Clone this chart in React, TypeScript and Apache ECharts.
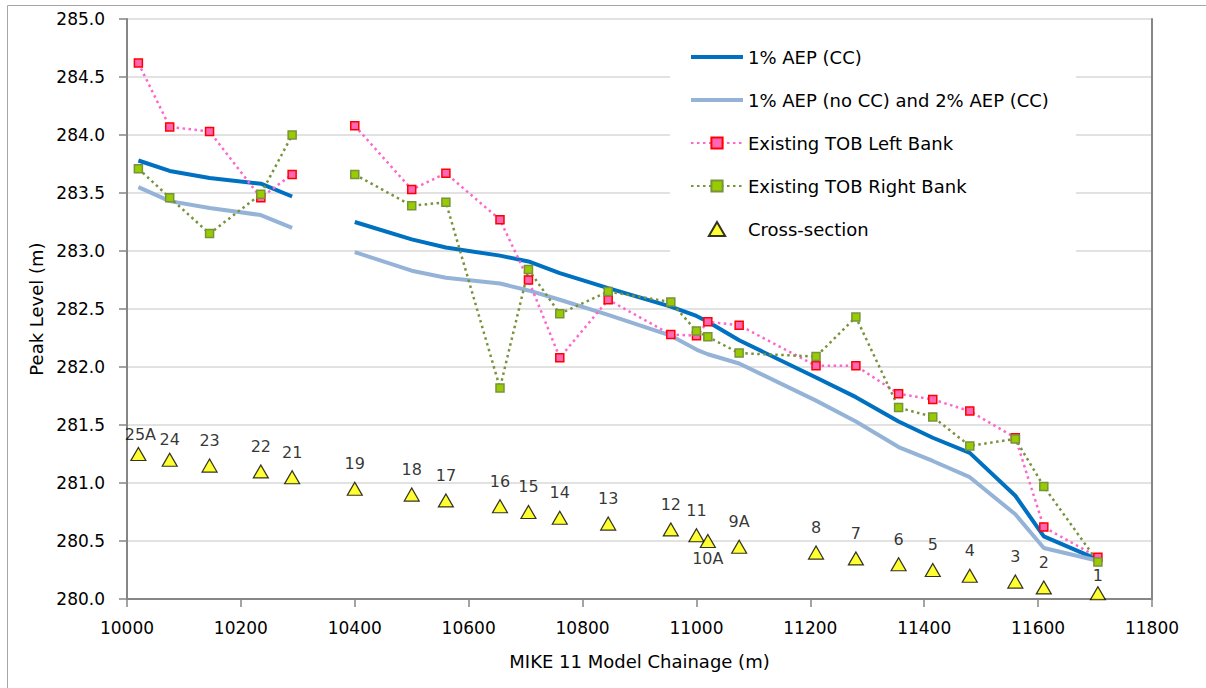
import React, { useEffect, useRef } from "react";
import * as echarts from "echarts";

// Cross-section chainages (m) and names
const chainage = [10020, 10075, 10145, 10235, 10290, 10400, 10500, 10560, 10655, 10705, 10760, 10845, 10955, 11000, 11020, 11075, 11210, 11280, 11355, 11415, 11480, 11560, 11610, 11705];
const sectionNames = ["25A", "24", "23", "22", "21", "19", "18", "17", "16", "15", "14", "13", "12", "11", "10A", "9A", "8", "7", "6", "5", "4", "3", "2", "1"];
const sectionMarker = [281.25, 281.2, 281.15, 281.1, 281.05, 280.95, 280.9, 280.85, 280.8, 280.75, 280.7, 280.65, 280.6, 280.55, 280.5, 280.45, 280.4, 280.35, 280.3, 280.25, 280.2, 280.15, 280.1, 280.05];

// Peak levels (m)
const aep1CC = [283.78, 283.69, 283.63, 283.58, 283.47, 283.25, 283.1, 283.03, 282.96, 282.91, 282.81, 282.68, 282.52, 282.44, 282.39, 282.23, 281.91, 281.74, 281.53, 281.39, 281.26, 280.89, 280.54, 280.34];
const aep1NoCC = [283.55, 283.43, 283.37, 283.31, 283.2, 282.99, 282.83, 282.77, 282.72, 282.66, 282.58, 282.45, 282.27, 282.15, 282.11, 282.03, 281.71, 281.53, 281.31, 281.19, 281.05, 280.73, 280.44, 280.33];
const tobLeft = [284.62, 284.07, 284.03, 283.46, 283.66, 284.08, 283.53, 283.67, 283.27, 282.75, 282.08, 282.58, 282.28, 282.27, 282.39, 282.36, 282.01, 282.01, 281.77, 281.72, 281.62, 281.39, 280.62, 280.36];
const tobRight = [283.71, 283.46, 283.15, 283.49, 284.0, 283.66, 283.39, 283.42, 281.82, 282.84, 282.46, 282.65, 282.56, 282.31, 282.26, 282.12, 282.09, 282.43, 281.65, 281.57, 281.32, 281.38, 280.97, 280.32];

// The model has two reaches: sections 25A-21 and 19-1
const reachBreak = 5;

const yTicks = { min: 280, max: 285, interval: 0.5 };
const xTicks = { min: 10000, max: 11800, interval: 200 };

const FONT = "DejaVu Sans";

const NAME_CC = "1% AEP (CC)";
const NAME_NOCC = "1% AEP (no CC) and 2% AEP (CC)";
const NAME_LEFT = "Existing TOB Left Bank";
const NAME_RIGHT = "Existing TOB Right Bank";
const NAME_XS = "Cross-section";

function pairs(ys: number[], from: number, to: number) {
  const out: number[][] = [];
  for (let i = from; i < to; i++) out.push([chainage[i], ys[i]]);
  return out;
}

function lineSeries(name: string, ys: number[], style: any) {
  return [
    { name, type: "line", data: pairs(ys, 0, reachBreak), ...style },
    { name, type: "line", data: pairs(ys, reachBreak, chainage.length), ...style },
  ];
}

export default function App() {
  const ref = useRef<HTMLDivElement>(null);
  useEffect(() => {
    document.body.style.margin = "0";
    if (!ref.current) return;
    const chart = echarts.init(ref.current, null, { renderer: "svg" });

    const ccStyle = {
      symbol: "none",
      lineStyle: { color: "#0070c0", width: 4 },
      itemStyle: { color: "#0070c0" },
      z: 2,
    };
    const noccStyle = {
      symbol: "none",
      lineStyle: { color: "#95b3d7", width: 4 },
      itemStyle: { color: "#95b3d7" },
      z: 2,
    };
    const leftStyle = {
      symbol: "rect",
      symbolSize: 8,
      lineStyle: { color: "#ff66cc", width: 2.5, type: [2.5, 3.5] },
      itemStyle: { color: "#ff66b3", borderColor: "#ff0000", borderWidth: 1.5 },
      z: 3,
    };
    const rightStyle = {
      symbol: "rect",
      symbolSize: 8,
      lineStyle: { color: "#77933c", width: 2.5, type: [2.5, 3.5] },
      itemStyle: { color: "#99cc00", borderColor: "#77933c", borderWidth: 1.5 },
      z: 3,
    };

    const labelOverrides: Record<string, any> = {
      "25A": { distance: 4, offset: [2, 0] },
      "24": { distance: 5 },
      "10A": { position: "bottom", distance: 2 },
      "1": { distance: 3 },
    };

    const xsData = chainage.map((x, i) => {
      const n = sectionNames[i];
      const item: any = { name: n, value: [x, sectionMarker[i]] };
      if (labelOverrides[n]) item.label = labelOverrides[n];
      return item;
    });

    const lineIcon = "path://M0,0H52V4H0Z";
    const triIcon = "path://M7,0L14,12L0,12Z";

    const option: any = {
      animation: false,
      textStyle: { fontFamily: FONT },
      graphic: [
        {
          type: "rect",
          shape: { x: 7.5, y: 5.5, width: 1210, height: 700 },
          style: { fill: "none", stroke: "#a6a6a6", lineWidth: 1 },
          silent: true,
          z: -1,
        },
      ],
      grid: { left: 127, right: 54, top: 19, bottom: 89, containLabel: false },
      legend: {
        orient: "vertical",
        left: 670,
        top: 30,
        padding: [16, 27, 17, 20],
        itemWidth: 52,
        itemHeight: 14,
        itemGap: 21,
        symbolKeepAspect: true,
        backgroundColor: "#ffffff",
        textStyle: { fontFamily: FONT, fontSize: 18, color: "#000", lineHeight: 22 },
        data: [
          { name: NAME_CC, icon: lineIcon },
          { name: NAME_NOCC, icon: lineIcon },
          NAME_LEFT,
          NAME_RIGHT,
          { name: NAME_XS, icon: triIcon },
        ],
      },
      xAxis: {
        type: "value",
        ...xTicks,
        name: "MIKE 11 Model Chainage (m)",
        nameLocation: "middle",
        nameGap: 53,
        nameTextStyle: { fontFamily: FONT, fontSize: 18, color: "#000" },
        axisLine: { show: true, onZero: false, lineStyle: { color: "#868686", width: 2 } },
        axisTick: { show: true, length: 8, lineStyle: { color: "#868686", width: 1.5 } },
        axisLabel: {
          fontFamily: FONT,
          fontSize: 17,
          color: "#000",
          margin: 20,
          formatter: (v: number) => String(v),
        },
        splitLine: { show: false },
      },
      yAxis: [
        {
          type: "value",
          ...yTicks,
          name: "Peak Level (m)",
          nameLocation: "middle",
          nameGap: 82,
          nameTextStyle: { fontFamily: FONT, fontSize: 18, color: "#000" },
          axisLine: { show: true, onZero: false, lineStyle: { color: "#868686", width: 2 } },
          axisTick: { show: true, length: 8, lineStyle: { color: "#868686", width: 1.5 } },
          axisLabel: {
            fontFamily: FONT,
            fontSize: 17,
            color: "#000",
            margin: 22,
            formatter: (v: number) => v.toFixed(1),
          },
          splitLine: { show: true, lineStyle: { color: "#d9d9d9", width: 1.5 } },
        },
        {
          type: "value",
          ...yTicks,
          position: "right",
          axisLine: { show: true, onZero: false, lineStyle: { color: "#868686", width: 2 } },
          axisTick: { show: false },
          axisLabel: { show: false },
          splitLine: { show: false },
        },
      ],
      series: [
        ...lineSeries(NAME_CC, aep1CC, ccStyle),
        ...lineSeries(NAME_NOCC, aep1NoCC, noccStyle),
        ...lineSeries(NAME_LEFT, tobLeft, leftStyle),
        ...lineSeries(NAME_RIGHT, tobRight, rightStyle),
        {
          name: NAME_XS,
          type: "scatter",
          symbol: "triangle",
          symbolSize: [15, 13],
          itemStyle: { color: "#ffff00", borderColor: "#000000", borderWidth: 1.2 },
          label: {
            show: true,
            position: "top",
            distance: 10,
            formatter: (p: any) => p.name,
            fontFamily: FONT,
            fontSize: 16,
            color: "#000",
          },
          data: xsData,
          z: 4,
        },
      ],
    };

    chart.setOption(option);
    return () => chart.dispose();
  }, []);

  return <div ref={ref} style={{ width: 1206, height: 688 }} />;
}
